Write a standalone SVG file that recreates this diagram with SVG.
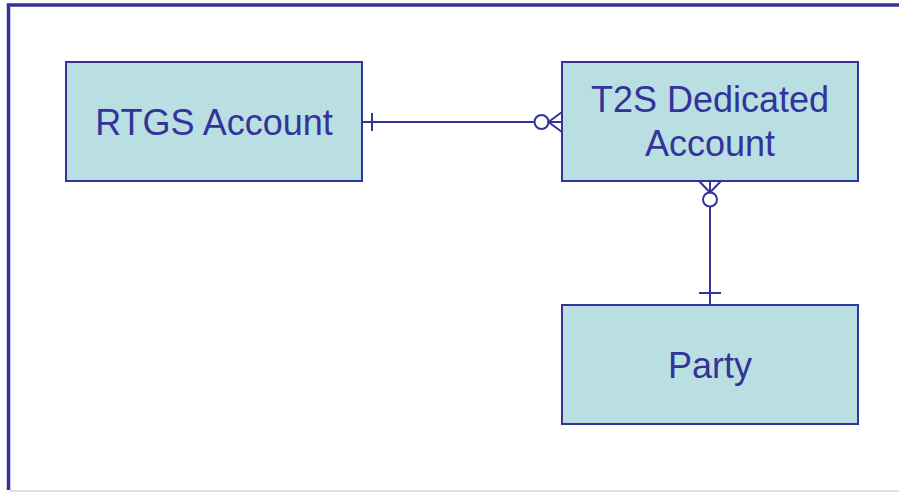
<svg xmlns="http://www.w3.org/2000/svg" width="899" height="492" viewBox="0 0 899 492">
<style>
.box{fill:#b9dfe2;stroke:#333399;stroke-width:2}
.lbl{font-family:"Liberation Sans",Arial,sans-serif;font-size:36px;fill:#333399;text-anchor:middle}
.con{fill:none;stroke:#333399;stroke-width:2}
.frame{fill:none;stroke:#333399;stroke-width:3.5}
</style>
<rect width="899" height="492" fill="#ffffff"/>
<g id="frame">
<path class="frame" d="M8.5,490 V5 H899"/>
<line x1="10" y1="491" x2="899" y2="491" stroke="#d2d2dc" stroke-width="1.5"/>
</g>
<g id="connectors">
<line class="con" x1="362" y1="122" x2="534.5" y2="122"/>
<line class="con" x1="372" y1="113" x2="372" y2="131"/>
<circle class="con" cx="541.5" cy="122" r="7"/>
<path class="con" d="M562,112 L548.5,122 L562,132 M548.5,122 H562"/>
<line class="con" x1="710" y1="206.5" x2="710" y2="305"/>
<line class="con" x1="699" y1="293" x2="721" y2="293"/>
<circle class="con" cx="710" cy="199.5" r="7"/>
<path class="con" d="M699,181 L710,192.5 L721,181 M710,181 V192.5"/>
</g>
<g id="rtgs-account">
<rect class="box" x="66" y="62" width="296" height="119"/>
<text class="lbl" x="214" y="135">RTGS Account</text>
</g>
<g id="t2s-dedicated-account">
<rect class="box" x="562" y="62" width="296" height="119"/>
<text class="lbl" x="710" y="112">T2S Dedicated</text>
<text class="lbl" x="710" y="156">Account</text>
</g>
<g id="party">
<rect class="box" x="562" y="305" width="296" height="119"/>
<text class="lbl" x="710" y="378">Party</text>
</g>
</svg>
